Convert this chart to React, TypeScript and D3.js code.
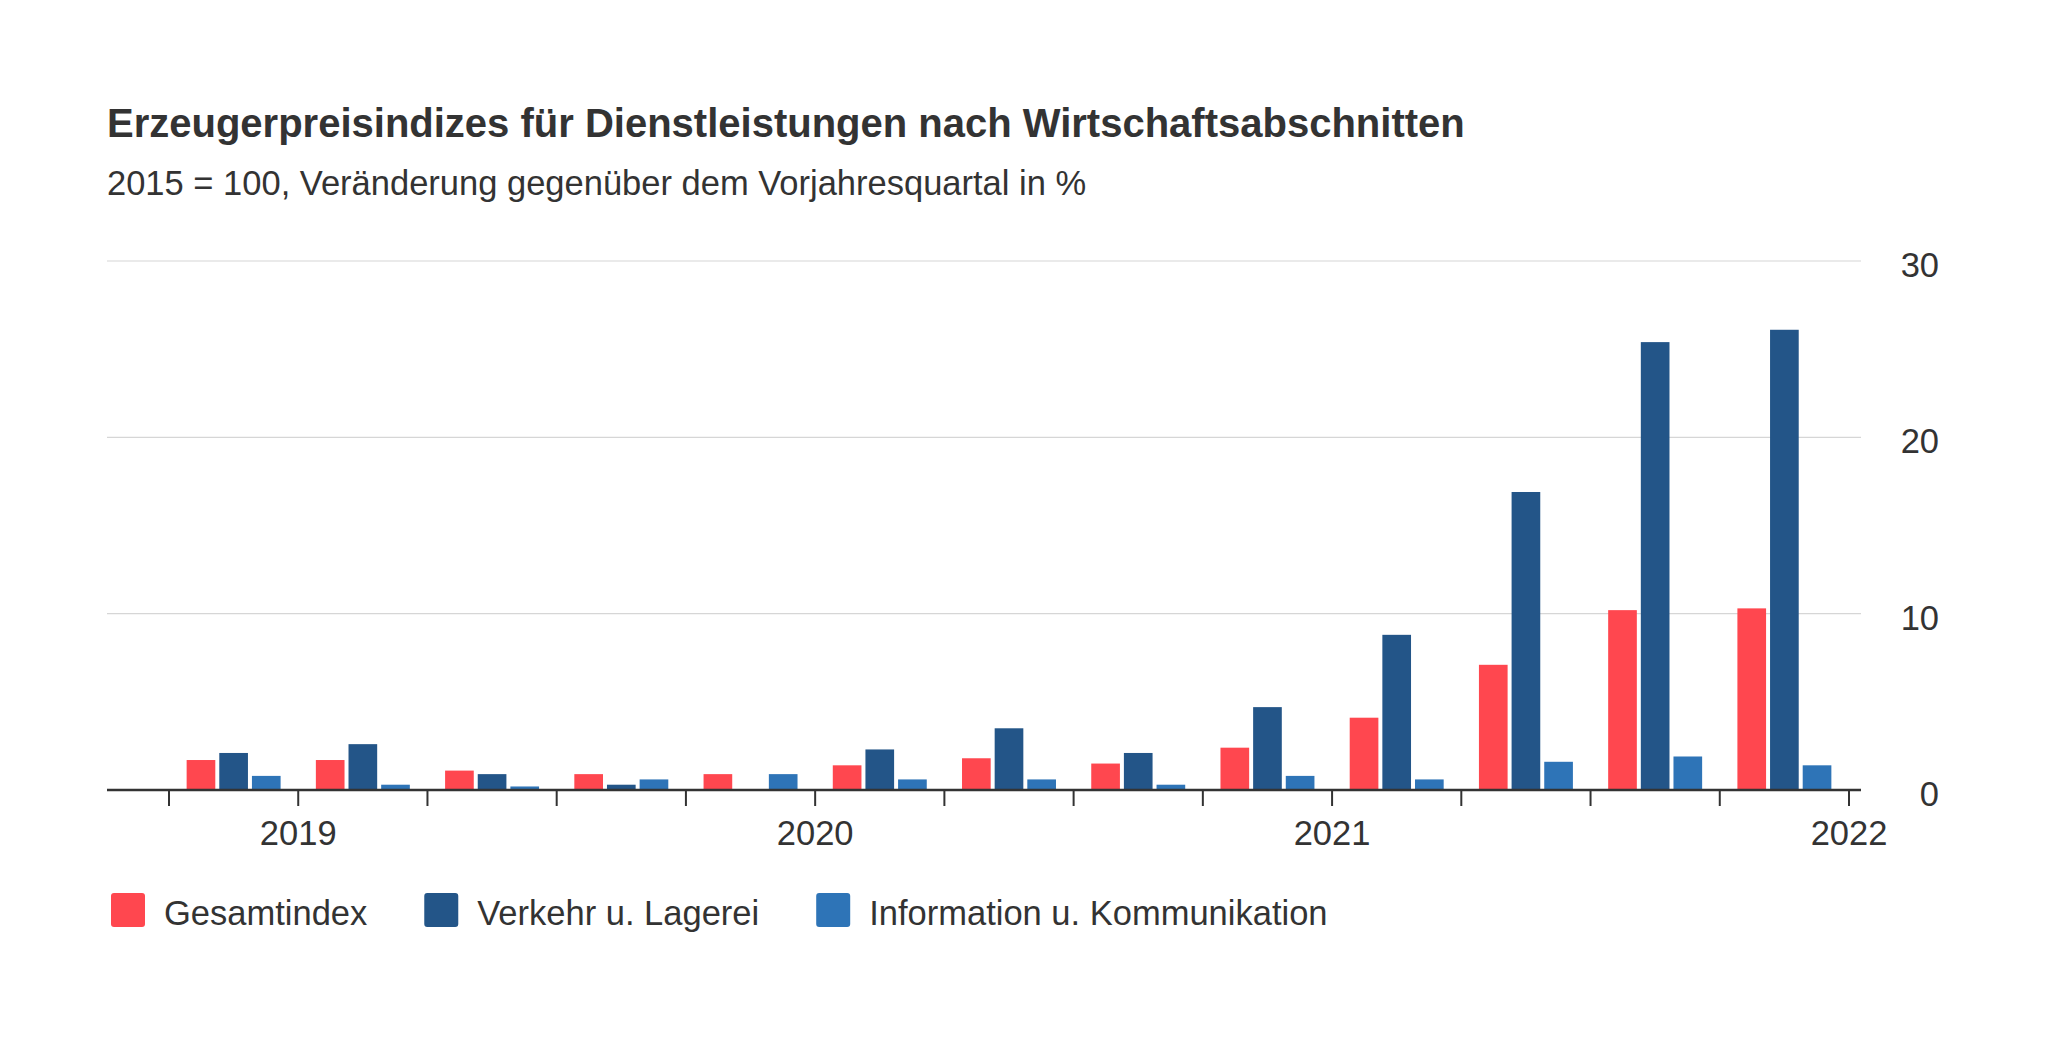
import * as d3 from 'd3'
import React, { useEffect, useRef } from 'react'

const quarters = ['2018Q4', '2019Q1', '2019Q2', '2019Q3', '2019Q4', '2020Q1', '2020Q2', '2020Q3', '2020Q4', '2021Q1', '2021Q2', '2021Q3', '2021Q4']
const gesamtindex = [1.7, 1.7, 1.1, 0.9, 0.9, 1.4, 1.8, 1.5, 2.4, 4.1, 7.1, 10.2, 10.3]
const verkehr = [2.1, 2.6, 0.9, 0.3, 0.0, 2.3, 3.5, 2.1, 4.7, 8.8, 16.9, 25.4, 26.1]
const information = [0.8, 0.3, 0.2, 0.6, 0.9, 0.6, 0.6, 0.3, 0.8, 0.6, 1.6, 1.9, 1.4]
const seriesNames = ['Gesamtindex', 'Verkehr u. Lagerei', 'Information u. Kommunikation']
const seriesColors = ['#ff474f', '#235588', '#2e74b7']
const yTicks = [0, 10, 20, 30]
// year labels sit on the boundary before these quarters (last one = end of axis)
const yearLabels = [{ at: 1, label: '2019' }, { at: 5, label: '2020' }, { at: 9, label: '2021' }, { at: 13, label: '2022' }]

const W = 2048
const H = 1042
const font = '"Liberation Sans", Arial, Helvetica, sans-serif'
const textColor = '#333333'
const fs = 34.5

export default function App() {
    const ref = useRef<SVGSVGElement>(null)

    useEffect(() => {
        document.body.style.margin = '0'
        const svg = d3.select(ref.current)
        svg.selectAll('*').remove()

        const left = 107, right = 1861
        const x0 = d3.scaleBand().domain(quarters).range([169, 1849]).paddingInner(0).paddingOuter(0)
        const x1 = d3.scaleBand().domain(seriesNames).range([0, x0.bandwidth()]).paddingInner(0.122).paddingOuter(0.54)
        const y = d3.scaleLinear().domain([0, 30]).range([790, 261])

        svg.append('text')
            .attr('x', 107).attr('y', 137)
            .attr('font-family', font).attr('font-size', 40).attr('font-weight', 'bold')
            .attr('fill', textColor)
            .text('Erzeugerpreisindizes für Dienstleistungen nach Wirtschaftsabschnitten')
        svg.append('text')
            .attr('x', 107).attr('y', 195)
            .attr('font-family', font).attr('font-size', fs)
            .attr('fill', textColor)
            .text('2015 = 100, Veränderung gegenüber dem Vorjahresquartal in %')

        // gridlines + y labels
        const grid = svg.append('g')
        grid.selectAll('line')
            .data(yTicks.filter(t => t > 0))
            .join('line')
            .attr('x1', left).attr('x2', right)
            .attr('y1', d => y(d)).attr('y2', d => y(d))
            .attr('stroke', '#d6d6d6').attr('stroke-width', 1.2)
        grid.selectAll('text')
            .data(yTicks)
            .join('text')
            .attr('x', 1939).attr('y', d => y(d) + 16)
            .attr('text-anchor', 'end')
            .attr('font-family', font).attr('font-size', fs)
            .attr('fill', textColor)
            .text(d => d)

        const series = [gesamtindex, verkehr, information]
        const groups = svg.append('g')
            .selectAll('g')
            .data(quarters)
            .join('g')
            .attr('transform', q => `translate(${x0(q)},0)`)
        groups.selectAll('rect')
            .data((q, i) => series.map((s, k) => ({ key: seriesNames[k], value: s[i], color: seriesColors[k] })))
            .join('rect')
            .attr('x', d => x1(d.key)!)
            .attr('width', x1.bandwidth())
            .attr('y', d => y(d.value))
            .attr('height', d => y(0) - y(d.value))
            .attr('fill', d => d.color)

        // x axis
        svg.append('line')
            .attr('x1', left).attr('x2', right)
            .attr('y1', y(0)).attr('y2', y(0))
            .attr('stroke', textColor).attr('stroke-width', 2.5)
        const tickPos = quarters.map(q => x0(q)!).concat([x0(quarters[quarters.length - 1])! + x0.bandwidth()])
        svg.append('g')
            .selectAll('line')
            .data(tickPos)
            .join('line')
            .attr('x1', d => d).attr('x2', d => d)
            .attr('y1', y(0)).attr('y2', y(0) + 16)
            .attr('stroke', textColor).attr('stroke-width', 2)
        svg.append('g')
            .selectAll('text')
            .data(yearLabels)
            .join('text')
            .attr('x', d => tickPos[d.at])
            .attr('y', 845)
            .attr('text-anchor', 'middle')
            .attr('font-family', font).attr('font-size', fs)
            .attr('fill', textColor)
            .text(d => d.label)

        // legend
        const legend = svg.append('g')
        let lx = 111
        seriesNames.forEach((name, k) => {
            legend.append('rect')
                .attr('x', lx).attr('y', 893)
                .attr('width', 34).attr('height', 34)
                .attr('rx', 3)
                .attr('fill', seriesColors[k])
            const t = legend.append('text')
                .attr('x', lx + 53).attr('y', 925)
                .attr('font-family', font).attr('font-size', fs)
                .attr('fill', textColor)
                .text(name)
            const len = (t.node() as SVGTextElement).getComputedTextLength()
            lx = lx + 53 + len + 57
        })
    }, [])

    return <svg ref={ref} width={W} height={H} viewBox={`0 0 ${W} ${H}`} style={{ display: 'block', background: '#fff' }}></svg>
}
